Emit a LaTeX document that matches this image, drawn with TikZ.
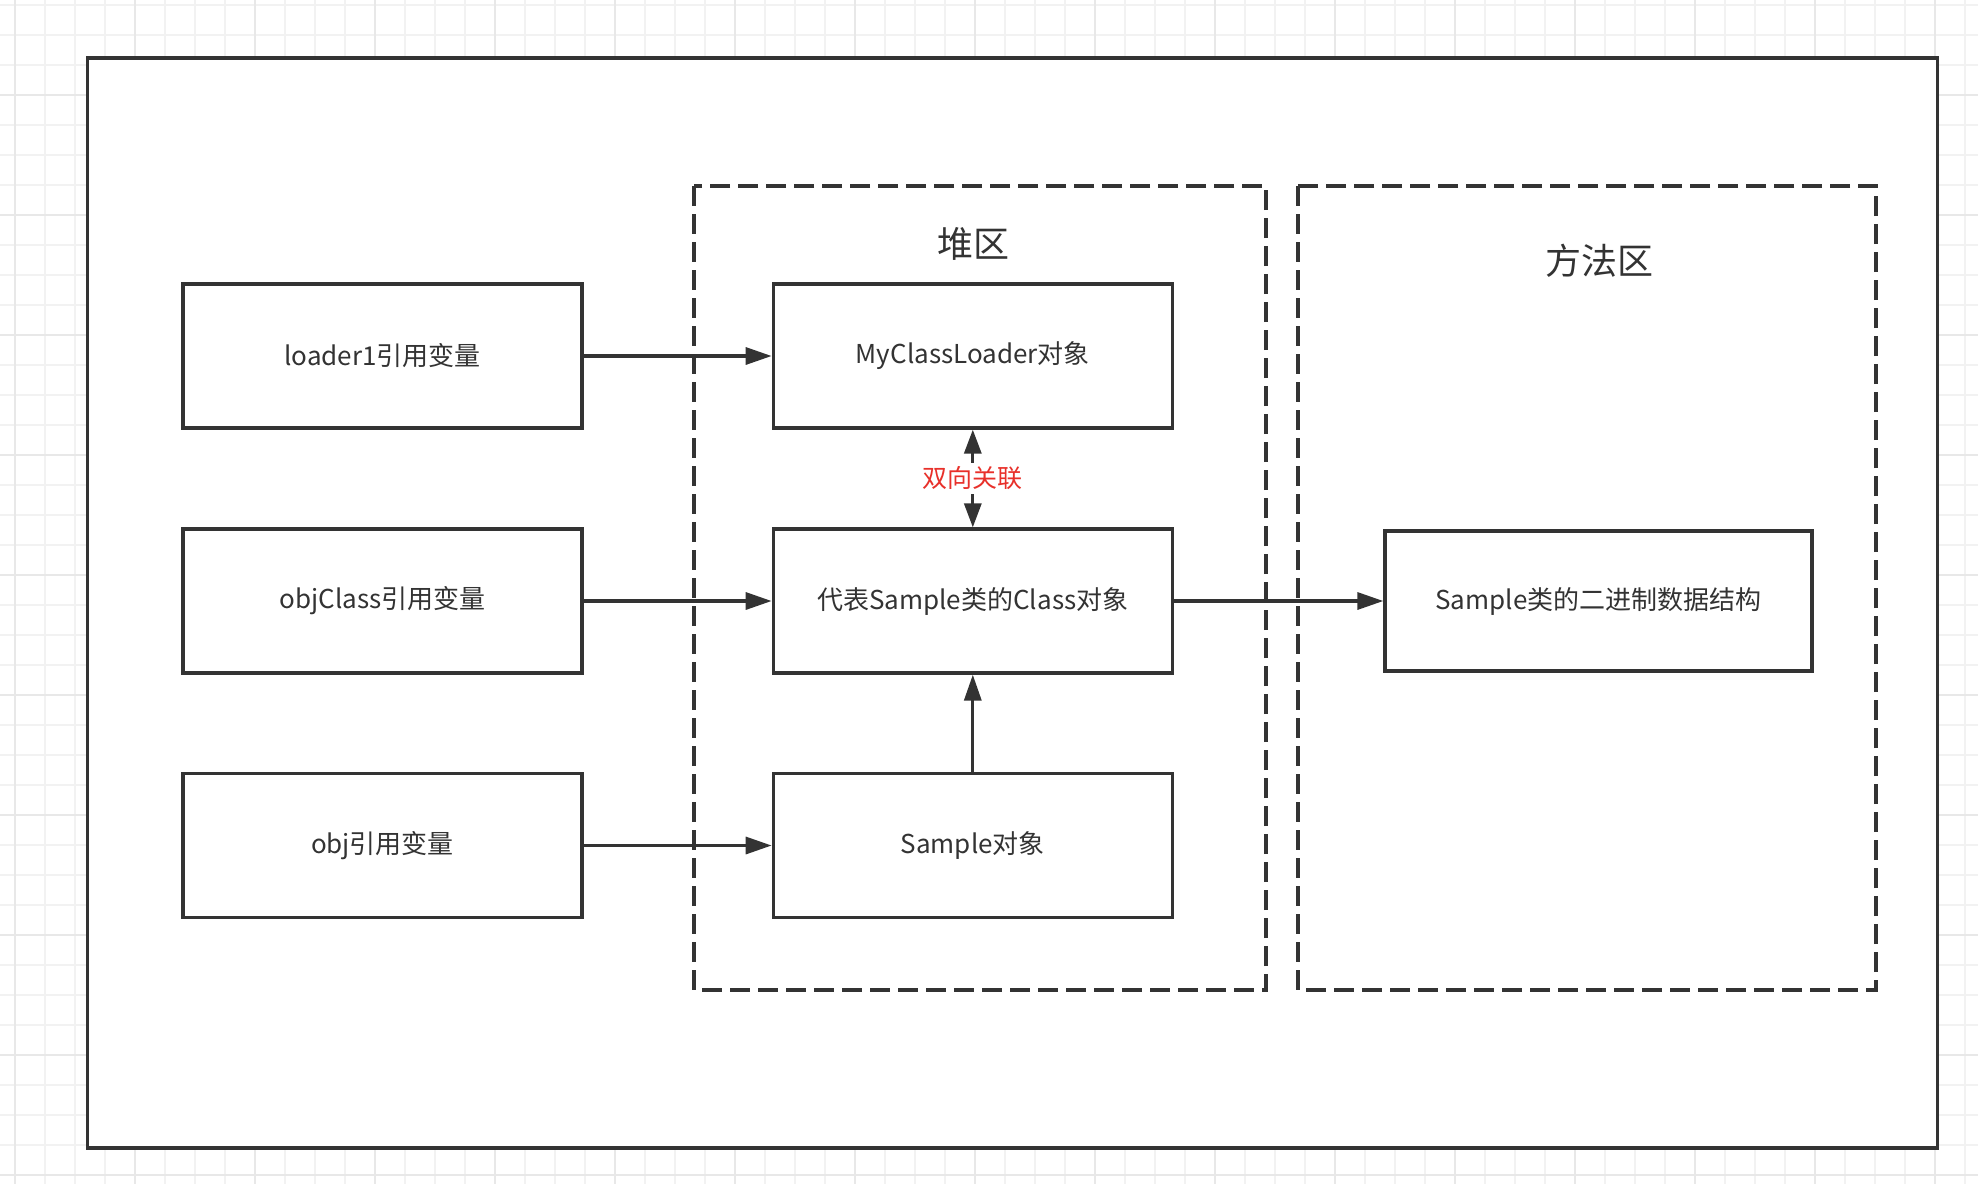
\documentclass[tikz,border=0pt]{standalone}
\usepackage{fontspec}
\setmainfont{Noto Sans CJK SC}
\usetikzlibrary{arrows.meta}
\definecolor{inkGray}{HTML}{333333}
\definecolor{gridMinor}{HTML}{F2F2F2}
\definecolor{gridMajor}{HTML}{E8E8E8}
\definecolor{linkRed}{HTML}{E8302A}

\begin{document}
\begin{tikzpicture}[x=1pt, y=-1pt, color=inkGray,
  box/.style={draw, line width=3.3pt, minimum width=399pt, minimum height=144pt, inner sep=0pt, font=\fontsize{26pt}{30pt}\selectfont},
  area/.style={line width=3.5pt, dash pattern=on 20pt off 8pt},
  title/.style={font=\fontsize{36pt}{40pt}\selectfont},
  link/.style={line width=3.3pt, -{Triangle[length=26pt,width=17pt]}},
  twoway/.style={line width=3.3pt, {Triangle[length=24pt,width=17pt]}-{Triangle[length=24pt,width=17pt]}}]
  \useasboundingbox (0,0) rectangle (1978,1184);
  % paper with grid
  \fill[white] (0,0) rectangle (1978,1184);
  \foreach \gx in {15,45,...,1965} \draw[gridMinor, line width=2pt] (\gx,0) -- (\gx,1184);
  \foreach \gy in {5,35,...,1175} \draw[gridMinor, line width=2pt] (0,\gy) -- (1978,\gy);
  \foreach \gx in {15,135,...,1935} \draw[gridMajor, line width=2pt] (\gx,0) -- (\gx,1184);
  \foreach \gy in {95,215,...,1175} \draw[gridMajor, line width=2pt] (0,\gy) -- (1978,\gy);
  % outer frame, heap and method area
  \draw[line width=3.3pt, fill=white] (87.5,58) rectangle (1937.5,1148);
  \draw[area] (694,186) rectangle (1266,990);
  \draw[area] (1298,186) rectangle (1876,990);
  \node[title] (heapTitle) at (973,244) {堆区};
  \node[title] (methodTitle) at (1599,261) {方法区};
  % references on the left
  \node[box] (loaderRef) at (382.5,356) {loader1引用变量};
  \node[box] (classRef) at (382.5,601) {objClass引用变量};
  \node[box] (objRef) at (382.5,845.5) {obj引用变量};
  % objects in the heap
  \node[box] (loaderObj) at (972.8,356) {MyClassLoader对象};
  \node[box] (classObj) at (972.8,601) {代表Sample类的Class对象};
  \node[box] (sampleObj) at (972.8,845.5) {Sample对象};
  % class data in the method area
  \node[box, minimum width=427pt, minimum height=140pt] (classData) at (1598.5,601) {Sample类的二进制数据结构};
  \draw[link] (loaderRef) -- (loaderObj);
  \draw[link] (classRef) -- (classObj);
  \draw[link] (objRef) -- (sampleObj);
  \draw[link] (classObj) -- (classData);
  \draw[link] (sampleObj) -- (classObj);
  \draw[twoway] (loaderObj) -- node[fill=white, text=linkRed, inner sep=4pt, font=\fontsize{25pt}{29pt}\selectfont] (linkLabel) {双向关联} (classObj);
\end{tikzpicture}
\end{document}
